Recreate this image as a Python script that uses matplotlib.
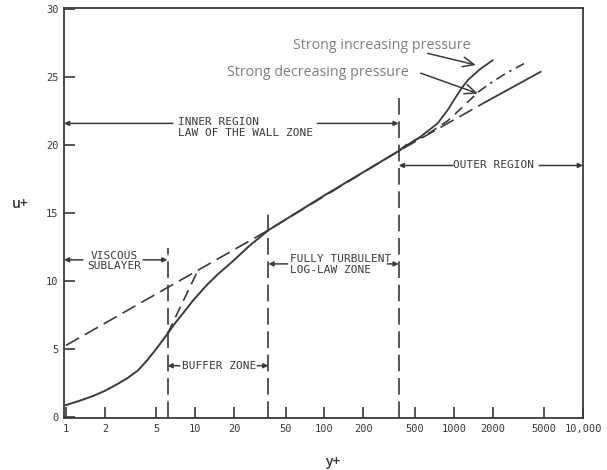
import matplotlib
matplotlib.use('Agg')
import matplotlib.pyplot as plt

# main velocity profile
wallY = [1.0, 1.3, 1.6, 2.0, 2.5, 3.0, 3.6, 4.2, 5.0, 6.1, 7.0, 8.1, 9.7, 12.3, 15.0, 19.8, 26.0, 37.0, 100.0, 380.0]
wallU = [0.85, 1.2, 1.5, 1.9, 2.4, 2.85, 3.4, 4.1, 5.0, 6.1, 6.9, 7.65, 8.6, 9.7, 10.5, 11.5, 12.55, 13.75, 16.3, 19.6]

# log law line: dashed part, then solid part
logDashY = [1.0, 37.0, 380.0, 1780.0]
logDashU = [5.25, 13.75, 19.6, 23.2]
logSolidY = [1780.0, 4700.0]
logSolidU = [23.2, 25.4]

# u+ = y+ extension into the buffer zone
linearY = [6.1, 10.4]
linearU = [6.1, 10.7]

# strong increasing pressure
incY = [380.0, 410.0, 550.0, 750.0, 900.0, 1000.0, 1150.0, 1290.0, 1600.0, 2000.0]
incU = [19.6, 19.85, 20.6, 21.6, 22.6, 23.3, 24.2, 24.8, 25.6, 26.25]

# strong decreasing pressure (dashed, then dash-dot)
decY = [380.0, 440.0, 650.0, 900.0, 1200.0, 1540.0]
decU = [19.6, 20.1, 20.9, 21.8, 22.9, 23.9]
decTailY = [1540.0, 1950.0, 2600.0, 3500.0]
decTailU = [23.9, 24.6, 25.35, 26.0]

# zone boundaries: y+ position and top of the dashed line
boundaryY = [6.1, 36.8, 375.0]
boundaryTop = [12.4, 15.1, 23.8]

xTicks = [1, 2, 5, 10, 20, 50, 100, 200, 500, 1000, 2000, 5000, 10000]
xTickLabels = ['1', '2', '5', '10', '20', '50', '100', '200', '500', '1000', '2000', '5000', '10,000']
yTicks = [0, 5, 10, 15, 20, 25, 30]

ink = '#3a3a3a'
mono = 'DejaVu Sans Mono'

fig = plt.figure(figsize=(6.07, 4.70), dpi=100)
ax = fig.add_axes([64 / 607, 1 - 418 / 470, 519 / 607, 410 / 470])
ax.set_xscale('log')
ax.set_xlim(0.965, 10000)
ax.set_ylim(-0.1, 30.1)

ax.plot(logDashY, logDashU, color=ink, lw=1.2, dashes=(9, 4))
ax.plot(logSolidY, logSolidU, color=ink, lw=1.3)
ax.plot(linearY, linearU, color=ink, lw=1.2, dashes=(7, 4))
ax.plot(wallY, wallU, color=ink, lw=1.4)
ax.plot(incY, incU, color=ink, lw=1.3)
ax.plot(decY, decU, color=ink, lw=1.2, dashes=(6, 4))
ax.plot(decTailY, decTailU, color=ink, lw=1.2, dashes=(6, 3, 1.5, 3))

for bx, top in zip(boundaryY, boundaryTop):
    ax.plot([bx, bx], [-0.1, top], color=ink, lw=1.2, dashes=(10, 4))

ax.set_xticks(xTicks)
ax.set_xticklabels(xTickLabels)
ax.minorticks_off()
ax.set_yticks(yTicks)
ax.tick_params(direction='in', length=8, width=1.2, color=ink, labelcolor=ink,
               labelsize=7.5, pad=4)
for lab in ax.get_xticklabels() + ax.get_yticklabels():
    lab.set_family(mono)
for sp in ax.spines.values():
    sp.set_color(ink)
    sp.set_linewidth(1.3)


def span(x0, x1, u):
    ax.annotate('', xy=(x1, u), xytext=(x0, u),
                arrowprops=dict(arrowstyle='-|>', color=ink, lw=1.1,
                                mutation_scale=7, shrinkA=0, shrinkB=0))


txt = dict(family=mono, fontsize=8, color=ink)

# inner region
ax.text(7.4, 21.3, 'INNER REGION\nLAW OF THE WALL ZONE', ha='left', va='center', linespacing=1.05, **txt)
span(6.7, 0.965, 21.6)
span(88, 375, 21.6)

# outer region
ax.text(2040, 18.5, 'OUTER REGION', ha='center', va='center', **txt)
span(985, 375, 18.5)
span(4570, 10000, 18.5)

# viscous sublayer
ax.text(2.36, 11.43, 'VISCOUS\nSUBLAYER', ha='center', va='center', linespacing=1.0, **txt)
span(1.35, 0.965, 11.55)
span(3.95, 6.1, 11.55)

# buffer zone
ax.text(15.2, 3.75, 'BUFFER ZONE', ha='center', va='center', **txt)
span(7.6, 6.1, 3.75)
span(30.2, 36.8, 3.75)

# fully turbulent
ax.text(54.5, 11.2, 'FULLY TURBULENT\nLOG-LAW ZONE', ha='left', va='center', linespacing=1.05, **txt)
span(51.6, 36.8, 11.25)
span(307, 375, 11.25)

# pressure labels
gray = '#7f7f7f'
ax.text(57.5, 27.35, 'Strong increasing pressure', family='Open Sans', fontsize=10.3,
        color=gray, ha='left', va='center')
ax.text(17.7, 25.37, 'Strong decreasing pressure', family='Open Sans', fontsize=10.3,
        color=gray, ha='left', va='center')
ax.annotate('', xy=(1482, 25.9), xytext=(628, 26.76),
            arrowprops=dict(arrowstyle='->,head_length=0.8,head_width=0.35', color=ink, lw=1.1,
                            shrinkA=0, shrinkB=0))
ax.annotate('', xy=(1535, 23.8), xytext=(555, 25.3),
            arrowprops=dict(arrowstyle='->,head_length=0.8,head_width=0.35', color=ink, lw=1.1,
                            shrinkA=0, shrinkB=0))

fig.text(20 / 607, 1 - 204 / 470, 'u+', family='Open Sans', fontweight='semibold',
         fontsize=10, color='#333333', ha='center', va='center')
fig.text(333 / 607, 1 - 462 / 470, 'y+', family='Open Sans', fontweight='semibold',
         fontsize=10, color='#333333', ha='center', va='center')

fig.savefig('out.png', dpi=100)
